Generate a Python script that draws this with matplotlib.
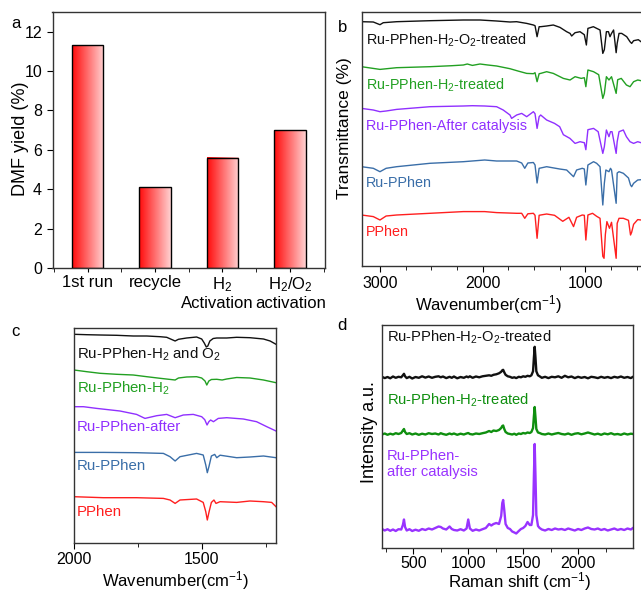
import matplotlib

matplotlib.use("Agg")
import matplotlib.pyplot as plt
import numpy as np
from matplotlib.colors import LinearSegmentedColormap
from matplotlib.ticker import MultipleLocator, FixedLocator

plt.rcParams["font.family"] = ["Liberation Sans", "DejaVu Sans"]
plt.rcParams["mathtext.fontset"] = "custom"
plt.rcParams["mathtext.rm"] = "Liberation Sans"
plt.rcParams["mathtext.default"] = "regular"

# ---------------- data ----------------
# (a) DMF yield
runs = ["1st run", "recycle", "H$_2$\nActivation", "H$_2$/O$_2$\nactivation"]
dmf_yield = [11.3, 4.1, 5.6, 7.0]

# (b) FTIR, (wavenumber, relative transmittance a.u.)
b_h2o2 = [(3179, -1.0), (3065, -1.3), (3000, -4.0), (2968, -2.0), (2838, -1.0), (2513, 0.0),
          (2188, 0.7), (2026, 0.7), (1864, -0.3), (1734, -1.3), (1669, -1.0), (1571, -2.7),
          (1506, -4.3), (1490, -5.0), (1470, -16.0), (1450, -6.0), (1435, -6.0), (1377, -5.3),
          (1312, -4.3), (1247, -6.7), (1182, -11.0), (1149, -12.7), (1133, -15.3), (1100, -12.0),
          (1052, -11.0), (1010, -14.0), (990, -24.3), (975, -7.7), (922, -6.0), (889, -7.7),
          (857, -9.3), (830, -32.7), (815, -29.0), (795, -11.0), (775, -11.0), (760, -16.0),
          (745, -12.7), (725, -9.3), (700, -32.0), (690, -22.7), (672, -12.7), (646, -12.7),
          (597, -16.0), (565, -21.0), (549, -22.7), (530, -20.0), (484, -19.0), (458, -21.0)]
b_h2 = [(3179, 0.0), (3000, -2.7), (2838, -1.0), (2513, 0.0), (2300, 1.0), (2188, 1.7),
        (2150, 2.7), (2100, 1.3), (2026, 2.7), (1950, 1.7), (1864, 0.7), (1734, -2.0),
        (1650, -4.5), (1571, -6.7), (1506, -7.0), (1490, -6.0), (1470, -15.0), (1450, -7.0),
        (1435, -6.7), (1377, -5.0), (1312, -6.7), (1214, -11.7), (1149, -13.3), (1100, -10.0),
        (1040, -11.7), (1010, -11.0), (995, -20.0), (975, -3.3), (920, -5.0), (870, -8.0),
        (830, -31.7), (815, -26.7), (795, -10.0), (770, -13.3), (745, -10.0), (700, -26.7),
        (685, -13.0), (650, -11.7), (600, -18.3), (565, -20.0), (530, -15.0), (490, -13.3),
        (458, -14.0)]
b_after = [(3179, -1.7), (3065, -3.3), (3000, -5.0), (2940, -4.3), (2838, -2.7), (2513, 0.0),
           (2188, 0.7), (2100, 1.0), (1980, 0.7), (1864, 0.0), (1800, -3.3), (1734, -8.3),
           (1718, -11.7), (1669, -8.3), (1620, -6.7), (1571, -10.0), (1506, -5.0), (1490, -7.0),
           (1470, -21.7), (1450, -10.0), (1435, -8.3), (1377, -13.3), (1300, -16.7), (1250, -20.0),
           (1214, -28.0), (1150, -31.7), (1100, -36.7), (1052, -35.0), (1010, -36.0), (995, -43.0),
           (975, -23.0), (920, -21.7), (875, -25.0), (830, -46.7), (815, -40.0), (795, -23.3),
           (770, -30.0), (755, -25.0), (740, -25.0), (700, -46.7), (690, -35.0), (672, -25.0),
           (630, -23.3), (600, -30.0), (565, -35.0), (530, -36.7), (490, -35.0), (458, -36.0)]
b_ru = [(3179, -6.7), (3065, -8.3), (3000, -11.7), (2940, -8.3), (2838, -6.7), (2513, -3.3),
        (2188, -1.7), (1980, 0.0), (1864, -1.0), (1669, -1.0), (1620, -3.0), (1590, -8.3),
        (1560, -3.0), (1506, -2.5), (1490, -5.0), (1470, -23.0), (1450, -8.3), (1435, -8.0),
        (1377, -6.7), (1250, -9.0), (1182, -10.0), (1115, -16.7), (1085, -10.0), (1030, -8.3),
        (1010, -9.0), (995, -25.0), (975, -5.0), (920, -1.7), (890, -3.3), (857, -6.7),
        (830, -45.0), (815, -23.3), (800, -10.0), (770, -11.7), (755, -8.3), (745, -10.0),
        (700, -43.3), (690, -13.0), (672, -11.7), (630, -13.3), (580, -18.0), (560, -25.0),
        (549, -26.7), (530, -23.3), (490, -20.0), (458, -19.7)]
b_pphen = [(3179, -2.7), (3065, -4.3), (3000, -7.7), (2940, -3.7), (2838, -2.7), (2513, -1.0),
           (2188, 0.7), (1980, 0.7), (1864, -0.3), (1669, -1.0), (1620, -1.0), (1590, -6.0),
           (1560, -1.5), (1506, -1.0), (1490, -3.0), (1470, -26.0), (1450, -3.0), (1435, -2.7),
           (1377, -1.7), (1300, -3.0), (1220, -9.0), (1160, -5.0), (1115, -14.3), (1085, -5.0),
           (1030, -2.7), (1010, -3.0), (995, -27.7), (975, -2.7), (930, -1.0), (890, -4.0),
           (857, -6.0), (830, -44.0), (818, -46.0), (805, -22.0), (790, -9.3), (765, -16.0),
           (745, -10.0), (700, -46.0), (690, -11.0), (672, -6.0), (630, -6.0), (580, -8.0),
           (560, -22.7), (549, -20.0), (530, -12.0), (490, -7.3), (458, -7.7)]

# (c) FTIR zoom 2000-1200 cm-1
c_h2o2 = [(2000, 0.7), (1950, 0.3), (1898, 0.0), (1833, -0.3), (1768, -1.0), (1715, -1.0),
          (1663, -1.7), (1637, -2.3), (1604, -6.0), (1591, -4.3), (1559, -3.0), (1520, -2.0),
          (1500, -4.0), (1490, -8.0), (1482, -12.0), (1476, -11.0), (1468, -6.0), (1455, -3.5),
          (1441, -3.0), (1402, -3.0), (1363, -2.3), (1311, -2.7), (1258, -4.0), (1232, -6.0),
          (1209, -9.3)]
c_h2 = [(2000, 0.0), (1950, -1.7), (1898, -3.3), (1833, -4.3), (1768, -5.0), (1715, -6.7),
        (1663, -8.3), (1604, -10.0), (1591, -8.0), (1559, -7.0), (1520, -6.7), (1500, -8.0),
        (1487, -11.0), (1480, -15.0), (1472, -11.0), (1462, -9.5), (1441, -9.3), (1420, -10.0),
        (1402, -9.0), (1363, -7.5), (1311, -8.0), (1258, -10.0), (1209, -12.7)]
c_after = [(2000, 0.0), (1963, 0.0), (1911, -1.7), (1820, -4.3), (1755, -7.7), (1722, -11.7),
           (1676, -9.0), (1637, -7.7), (1604, -11.0), (1572, -8.3), (1533, -7.7), (1500, -10.0),
           (1488, -13.0), (1479, -18.3), (1472, -15.0), (1465, -13.3), (1454, -15.0), (1435, -11.7),
           (1402, -11.0), (1337, -12.3), (1285, -15.0), (1245, -20.0), (1209, -24.3)]
c_ru = [(2000, -0.7), (1885, -0.7), (1755, -1.0), (1650, -1.7), (1624, -5.0), (1604, -9.3),
        (1585, -5.0), (1520, -1.7), (1494, -3.3), (1484, -13.3), (1478, -21.0), (1471, -14.3),
        (1462, -4.3), (1449, -2.7), (1441, -6.0), (1428, -3.5), (1363, -6.0), (1311, -5.3),
        (1258, -4.3), (1209, -6.0)]
c_pphen = [(2000, 0.0), (1885, -1.0), (1755, -1.0), (1650, -1.7), (1624, -3.3), (1604, -6.7),
           (1585, -3.3), (1520, -2.3), (1494, -5.7), (1484, -15.0), (1478, -23.3), (1471, -15.0),
           (1462, -5.7), (1452, -3.3), (1444, -6.7), (1428, -5.0), (1363, -5.7), (1311, -4.3),
           (1258, -5.0), (1226, -5.7), (1209, -10.0)]

# (d) Raman
raman_shift = [215, 240, 265, 290, 315, 340, 365, 390, 405, 415, 425, 440, 465, 490, 520, 550,
               580, 610, 640, 670, 700, 730, 750, 770, 800, 830, 850, 870, 900, 930, 960, 985,
               1000, 1015, 1040, 1070, 1100, 1130, 1160, 1190, 1210, 1230, 1255, 1280, 1300, 1310,
               1318, 1328, 1340, 1360, 1380, 1400, 1420, 1437, 1460, 1480, 1500, 1520, 1540, 1560,
               1575, 1590, 1598, 1605, 1612, 1620, 1635, 1650, 1670, 1700, 1730, 1760, 1790, 1820,
               1850, 1880, 1910, 1940, 1970, 2000, 2030, 2060, 2090, 2120, 2150, 2180, 2210, 2240,
               2270, 2300, 2330, 2360, 2390, 2420, 2450, 2480, 2500]
raman_h2o2 = [0.5, -0.8, 0.3, -1.0, 0.8, -0.5, 0.5, 0.0, 2.0, 3.5, 1.0, -0.8, 0.5, -1.2, 0.3, -0.5,
              1.0, -0.3, 0.8, -0.5, 0.5, 1.0, 0.0, 0.8, -0.8, 0.5, -0.5, 0.8, -1.0, 0.3, -0.5, 0.8,
              0.0, 1.0, -0.5, 0.8, 0.0, 1.0, 1.5, 2.0, 1.5, 2.5, 3.0, 4.0, 5.5, 7.0,
              7.5, 5.0, 2.5, 1.0, 0.5, -0.5, 0.0, -0.8, 0.5, 0.0, 1.0, 0.5, 1.5, 1.0,
              2.0, 6.0, 20.0, 30.5, 20.0, 6.0, 2.0, 1.0, -0.5, 0.5, -0.8, 0.5, 0.0, 1.0,
              -0.5, 1.5, 0.0, 0.8, -0.8, 0.5, -0.5, 0.3, -1.0, 0.5, 0.0, -0.8, 0.5, -0.5,
              0.3, -0.8, 0.5, -0.3, 0.8, -0.5, 0.3, -0.8, 0.5]
raman_h2 = [-0.5, 0.5, -0.8, 0.3, -0.5, 0.8, 0.0, 1.0, 3.5, 5.0, 2.0, 0.0, 0.8, -0.5, 0.5, -0.8,
            0.3, -0.5, 0.8, 0.0, 0.5, -0.5, 0.8, 0.0, -0.8, 0.5, -0.3, 0.5, -0.8, 0.3, -0.5, 0.5,
            1.0, 0.0, -0.5, 0.5, 0.0, 0.8, 1.5, 3.0, 2.0, 3.5, 3.0, 4.0, 6.0, 8.0,
            8.5, 5.0, 2.0, 0.5, 0.0, -0.5, 0.3, -0.8, 0.5, 0.0, 1.0, 0.5, 1.5, 1.0,
            2.0, 6.0, 18.0, 27.0, 17.0, 5.0, 1.5, 1.0, 0.0, -0.5, 0.5, -0.5, 0.3, 1.0,
            0.0, -0.5, 0.5, -0.8, 0.3, 0.8, -0.3, 0.5, 1.5, 0.5, -0.5, 0.3, -0.8, 0.5,
            -0.3, 0.8, -0.5, 0.0, -0.8, 0.5, -0.5, 0.3, 0.0]
raman_after = [1.0, -0.5, 0.8, -0.8, 0.5, -1.0, 0.8, 0.5, 5.0, 10.5, 3.0, -0.5, 0.8, -1.0, 0.3, -0.8,
               1.0, 0.0, 1.5, 0.5, 2.0, 3.5, 3.0, 1.5, 0.5, 3.5, 1.0, 0.0, -0.5, 0.8, -0.5, 1.5,
               10.5, 1.5, -0.8, 0.5, -0.5, 0.8, 2.0, 6.0, 4.5, 6.0, 7.0, 6.0, 14.0, 27.0,
               30.0, 20.0, 6.0, 2.0, 1.0, -1.5, -2.5, -3.5, -1.0, 1.0, 2.0, 4.0, 8.0, 5.0,
               5.0, 15.0, 55.0, 86.0, 55.0, 15.0, 4.0, 2.0, 0.5, -0.5, 1.0, 0.0, 1.5, 0.5,
               1.0, 0.0, 1.5, 0.5, -0.5, 1.0, 0.0, 1.5, 2.5, 1.0, 0.5, 1.5, 0.0, 1.0,
               -0.5, 0.5, 1.5, 0.0, 1.0, 0.0, 1.5, 0.5, 2.0]

# ---------------- layout helpers ----------------
W, H = 641, 592
fig = plt.figure(figsize=(W / 100, H / 100), dpi=100)


def px_axes(left, top, right, bottom):
    return fig.add_axes([left / W, 1 - bottom / H, (right - left) / W, (bottom - top) / H])


def ptext(x, y, s, **kw):
    kw.setdefault("va", "center")
    return fig.text(x / W, 1 - y / H, s, **kw)


TICK_FS = 11.5

# ---------------- (a) ----------------
ax = px_axes(52.5, 12, 325, 268)
cmap = LinearSegmentedColormap.from_list("redfade", ["#ff0a0a", "#ffd2d2"])
grad = np.linspace(0, 1, 256).reshape(1, -1)
bar_w = 0.47
for i, h in enumerate(dmf_yield):
    ax.imshow(grad, cmap=cmap, aspect="auto", extent=(i - bar_w / 2, i + bar_w / 2, 0, h), zorder=2)
ax.bar(range(len(runs)), dmf_yield, bar_w, fill=False, edgecolor="black", linewidth=1.0, zorder=3)
ax.set_xlim(-0.52, 3.52)
ax.set_ylim(0, 13)
ax.set_yticks(range(0, 13, 2))
ax.set_xticks(range(len(runs)))
# first line under the bar, second line ("Activation") placed separately as in the reference
ax.set_xticklabels([r.split("\n")[0] for r in runs], fontsize=12)
second_lines = [(217.5, runs[2].split("\n")[1]), (291, runs[3].split("\n")[1])]
for x_px, word in second_lines:
    ptext(x_px, 303, word, ha="center", fontsize=12)
ax.xaxis.set_minor_locator(FixedLocator([-0.5, 0.5, 1.5, 2.5, 3.5]))
ax.tick_params(axis="x", which="major", length=3, direction="out", pad=2)
ax.tick_params(axis="x", which="minor", length=3, direction="out")
ax.tick_params(axis="y", which="major", length=4, direction="out", labelsize=TICK_FS)
ptext(21, 139, "DMF yield (%)", rotation=90, ha="center", fontsize=13)
ptext(16, 24, "a", ha="center", fontsize=12)

# ---------------- (b) ----------------
axb = px_axes(362, 12.3, 641, 265.7)
b_series = [
    (b_h2o2, 245.0, "#111111", "Ru-PPhen-H$_2$-O$_2$-treated", 40),
    (b_h2, 199.0, "#22a022", "Ru-PPhen-H$_2$-treated", 85),
    (b_after, 159.0, "#9030ff", "Ru-PPhen-After catalysis", 126),
    (b_ru, 105.7, "#3a6ea8", "Ru-PPhen", 183),
    (b_pphen, 53.4, "#ff1f1f", "PPhen", 231.5),
]
for pairs, off, col, lab, ly in b_series:
    wn, tr = zip(*pairs)
    axb.plot(wn, np.array(tr) + off, color=col, linewidth=1.0)
    ptext(366, ly, lab, color=col, fontsize=10.4, ha="left")
axb.set_xlim(3175, 458)
axb.set_ylim(0, 253.4)
axb.set_yticks([])
axb.xaxis.set_major_locator(FixedLocator([3000, 2000, 1000]))
axb.xaxis.set_minor_locator(MultipleLocator(250))
axb.tick_params(axis="x", which="major", length=4, direction="out", labelsize=TICK_FS)
axb.tick_params(axis="x", which="minor", length=3, direction="out")
axb.spines["right"].set_visible(False)
ptext(345, 128, "Transmittance (%)", rotation=90, ha="center", fontsize=12.5)
ptext(488, 305, "Wavenumber(cm$^{-1}$)", ha="center", fontsize=12)
ptext(343, 27, "b", ha="center", fontsize=12)

# ---------------- (c) ----------------
axc = px_axes(74, 328.3, 276, 542.7)
c_series = [
    (c_h2o2, 207.7, "#111111", "Ru-PPhen-H$_2$ and O$_2$", 354),
    (c_h2, 172.7, "#22a022", "Ru-PPhen-H$_2$", 388),
    (c_after, 136.0, "#9030ff", "Ru-PPhen-after", 426.7),
    (c_ru, 91.0, "#3a6ea8", "Ru-PPhen", 465.7),
    (c_pphen, 46.0, "#ff1f1f", "PPhen", 512.3),
]
for pairs, off, col, lab, ly in c_series:
    wn, tr = zip(*pairs)
    axc.plot(wn, np.array(tr) + off, color=col, linewidth=1.0)
    ptext(77, ly, lab, color=col, fontsize=10.8, ha="left")
axc.set_xlim(2000, 1209)
axc.set_ylim(0, 214.4)
axc.set_yticks([])
axc.xaxis.set_major_locator(FixedLocator([2000, 1500]))
axc.xaxis.set_minor_locator(FixedLocator([1750, 1250]))
axc.tick_params(axis="x", which="major", length=4, direction="out", labelsize=TICK_FS, pad=2.5)
axc.tick_params(axis="x", which="minor", length=3, direction="out")
ptext(175, 581, "Wavenumber(cm$^{-1}$)", ha="center", fontsize=12)
ptext(15, 331, "c", ha="center", fontsize=12)

# ---------------- (d) ----------------
axd = px_axes(382, 325, 633, 548)
d_series = [
    (raman_h2o2, 170.7, "#111111"),
    (raman_h2, 114.0, "#0f8f0f"),
    (raman_after, 18.0, "#9933ff"),
]
for vals, off, col in d_series:
    axd.plot(raman_shift, np.array(vals) + off, color=col, linewidth=1.7)
ptext(387, 337, "Ru-PPhen-H$_2$-O$_2$-treated", color="#111111", fontsize=10.6, ha="left")
ptext(387, 400, "Ru-PPhen-H$_2$-treated", color="#0f8f0f", fontsize=10.6, ha="left")
ptext(387, 464, "Ru-PPhen-\nafter catalysis", color="#9933ff", fontsize=10.6, ha="left",
      linespacing=1.15)
axd.set_xlim(215, 2500)
axd.set_ylim(0, 223)
axd.set_yticks([])
axd.xaxis.set_major_locator(FixedLocator([500, 1000, 1500, 2000]))
axd.xaxis.set_minor_locator(FixedLocator([250, 750, 1250, 1750, 2250]))
axd.tick_params(axis="x", which="major", length=4, direction="out", labelsize=TICK_FS, pad=1.5)
axd.tick_params(axis="x", which="minor", length=3, direction="out")
ptext(369, 432, "Intensity a.u.", rotation=90, ha="center", fontsize=13)
ptext(520, 582, "Raman shift (cm$^{-1}$)", ha="center", fontsize=12.2)
ptext(342, 325, "d", ha="center", fontsize=12)

for a in (ax, axb, axc, axd):
    for s in a.spines.values():
        s.set_linewidth(1.0)
        s.set_color("#333333")

fig.savefig("out.png", dpi=100)
